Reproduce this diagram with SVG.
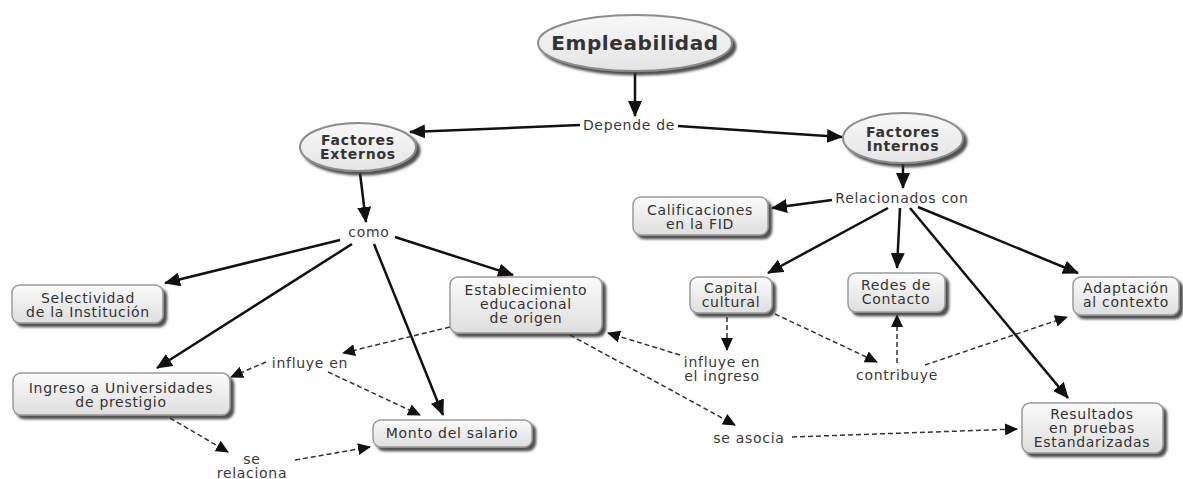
<svg xmlns="http://www.w3.org/2000/svg" width="1183" height="479" viewBox="0 0 1183 479">
<defs>
<linearGradient id="gBox" x1="0" y1="0" x2="0" y2="1"><stop offset="0" stop-color="#fbfbfb"/><stop offset="1" stop-color="#dedede"/></linearGradient>
<linearGradient id="gEl" x1="0" y1="0" x2="0" y2="1"><stop offset="0" stop-color="#f8f8f8"/><stop offset="1" stop-color="#e4e4e4"/></linearGradient>
<filter id="sh" x="-20%" y="-20%" width="140%" height="150%"><feDropShadow dx="3.5" dy="3.5" stdDeviation="1.2" flood-color="#333" flood-opacity="0.85"/></filter>
<marker id="aS" markerUnits="userSpaceOnUse" markerWidth="16" markerHeight="14" refX="15" refY="7" orient="auto"><path d="M0,0 L16,7 L0,14 z" fill="#111"/></marker>
<marker id="aD" markerUnits="userSpaceOnUse" markerWidth="13" markerHeight="12" refX="12" refY="6" orient="auto"><path d="M0,0 L13,6 L0,12 z" fill="#111"/></marker>
<style>
.box{fill:url(#gBox);stroke:#9a9a9a;stroke-width:1.5;filter:url(#sh)}
.el{fill:url(#gEl);stroke:#8c8c8c;stroke-width:2;filter:url(#sh)}
.t{font-family:"DejaVu Sans",Verdana,sans-serif;font-size:14px;letter-spacing:0.7px;fill:#333;text-anchor:middle}
.tb{font-family:"DejaVu Sans",Verdana,sans-serif;font-weight:bold;font-size:14px;letter-spacing:0.8px;fill:#333;text-anchor:middle}
.lb{font-family:"DejaVu Sans",Verdana,sans-serif;font-size:14px;letter-spacing:0.7px;fill:#3a3a3a;text-anchor:middle}
.s{stroke:#111;stroke-width:2.5;fill:none;marker-end:url(#aS)}
.d{stroke:#333;stroke-width:1.5;fill:none;stroke-dasharray:5 3;marker-end:url(#aD)}
</style>
</defs>
<rect width="1183" height="479" fill="#fff"/>
<g id="connectors">
<line class="s" x1="635" y1="73" x2="635" y2="116"/>
<line class="s" x1="580" y1="125" x2="410" y2="132"/>
<line class="s" x1="678" y1="126" x2="842" y2="137"/>
<line class="s" x1="360" y1="173" x2="366" y2="222"/>
<line class="s" x1="340" y1="240" x2="165" y2="283"/>
<line class="s" x1="352" y1="244" x2="157" y2="368"/>
<line class="s" x1="374" y1="244" x2="443" y2="415"/>
<line class="s" x1="395" y1="237" x2="513" y2="275"/>
<line class="s" x1="903" y1="164" x2="903" y2="188"/>
<line class="s" x1="832" y1="200" x2="772" y2="208"/>
<line class="s" x1="888" y1="208" x2="768" y2="273"/>
<line class="s" x1="900" y1="208" x2="897" y2="268"/>
<line class="s" x1="918" y1="207" x2="1078" y2="273"/>
<line class="s" x1="910" y1="208" x2="1068" y2="398"/>
<line class="d" x1="450" y1="327" x2="343" y2="353"/>
<line class="d" x1="266" y1="362" x2="231" y2="377"/>
<line class="d" x1="328" y1="372" x2="420" y2="415"/>
<line class="d" x1="170" y1="418" x2="228" y2="452"/>
<line class="d" x1="295" y1="460" x2="370" y2="447"/>
<line class="d" x1="570" y1="335" x2="735" y2="425"/>
<line class="d" x1="792" y1="437" x2="1017" y2="429"/>
<line class="d" x1="727" y1="317" x2="727" y2="350"/>
<line class="d" x1="680" y1="355" x2="608" y2="333"/>
<line class="d" x1="775" y1="314" x2="877" y2="362"/>
<line class="d" x1="897" y1="363" x2="897" y2="315"/>
<line class="d" x1="925" y1="365" x2="1067" y2="317"/>
</g>
<g id="link-labels">
<rect x="584" y="117" width="90" height="16" fill="#fff"/>
<text class="lb" x="629" y="130">Depende de</text>
<rect x="347" y="224" width="44" height="16" fill="#fff"/>
<text class="lb" x="369" y="237">como</text>
<text class="lb" x="902" y="203">Relacionados con</text>
<text class="lb" x="310" y="368">influye en</text>
<text class="lb" x="252" y="464">se</text>
<text class="lb" x="252" y="478">relaciona</text>
<text class="lb" x="749" y="443">se asocia</text>
<text class="lb" x="722" y="367">influye en</text>
<text class="lb" x="722" y="381">el ingreso</text>
<text class="lb" x="897" y="380">contribuye</text>
</g>
<g id="empleabilidad">
<ellipse class="el" cx="635" cy="43" rx="97" ry="28"/>
<text class="tb" x="635" y="50" style="font-size:20px;letter-spacing:0.6px">Empleabilidad</text>
</g>
<g id="factores-externos">
<ellipse class="el" cx="358" cy="147" rx="58" ry="24"/>
<text class="tb" x="358" y="145">Factores</text>
<text class="tb" x="358" y="159">Externos</text>
</g>
<g id="factores-internos">
<ellipse class="el" cx="903" cy="138" rx="60" ry="25"/>
<text class="tb" x="903" y="137">Factores</text>
<text class="tb" x="903" y="151">Internos</text>
</g>
<g id="selectividad">
<rect class="box" x="12" y="285" width="151" height="38" rx="8"/>
<text class="t" x="88" y="303">Selectividad</text>
<text class="t" x="88" y="317">de la Institución</text>
</g>
<g id="ingreso">
<rect class="box" x="13" y="373" width="217" height="42" rx="8"/>
<text class="t" x="121" y="393">Ingreso a Universidades</text>
<text class="t" x="121" y="407">de prestigio</text>
</g>
<g id="establecimiento">
<rect class="box" x="450" y="277" width="152" height="56" rx="8"/>
<text class="t" x="526" y="295">Establecimiento</text>
<text class="t" x="526" y="309">educacional</text>
<text class="t" x="526" y="323">de origen</text>
</g>
<g id="monto">
<rect class="box" x="373" y="420" width="159" height="27" rx="8"/>
<text class="t" x="452" y="438">Monto del salario</text>
</g>
<g id="calificaciones">
<rect class="box" x="633" y="197" width="135" height="38" rx="8"/>
<text class="t" x="700" y="215">Calificaciones</text>
<text class="t" x="700" y="229">en la FID</text>
</g>
<g id="capital-cultural">
<rect class="box" x="690" y="277" width="82" height="36" rx="8"/>
<text class="t" x="731" y="293">Capital</text>
<text class="t" x="731" y="307">cultural</text>
</g>
<g id="redes">
<rect class="box" x="848" y="273" width="97" height="39" rx="8"/>
<text class="t" x="896" y="290">Redes de</text>
<text class="t" x="896" y="304">Contacto</text>
</g>
<g id="adaptacion">
<rect class="box" x="1073" y="277" width="106" height="38" rx="8"/>
<text class="t" x="1126" y="293">Adaptación</text>
<text class="t" x="1126" y="307">al contexto</text>
</g>
<g id="resultados">
<rect class="box" x="1022" y="403" width="141" height="50" rx="8"/>
<text class="t" x="1092" y="419">Resultados</text>
<text class="t" x="1092" y="433">en pruebas</text>
<text class="t" x="1092" y="447">Estandarizadas</text>
</g>
</svg>
